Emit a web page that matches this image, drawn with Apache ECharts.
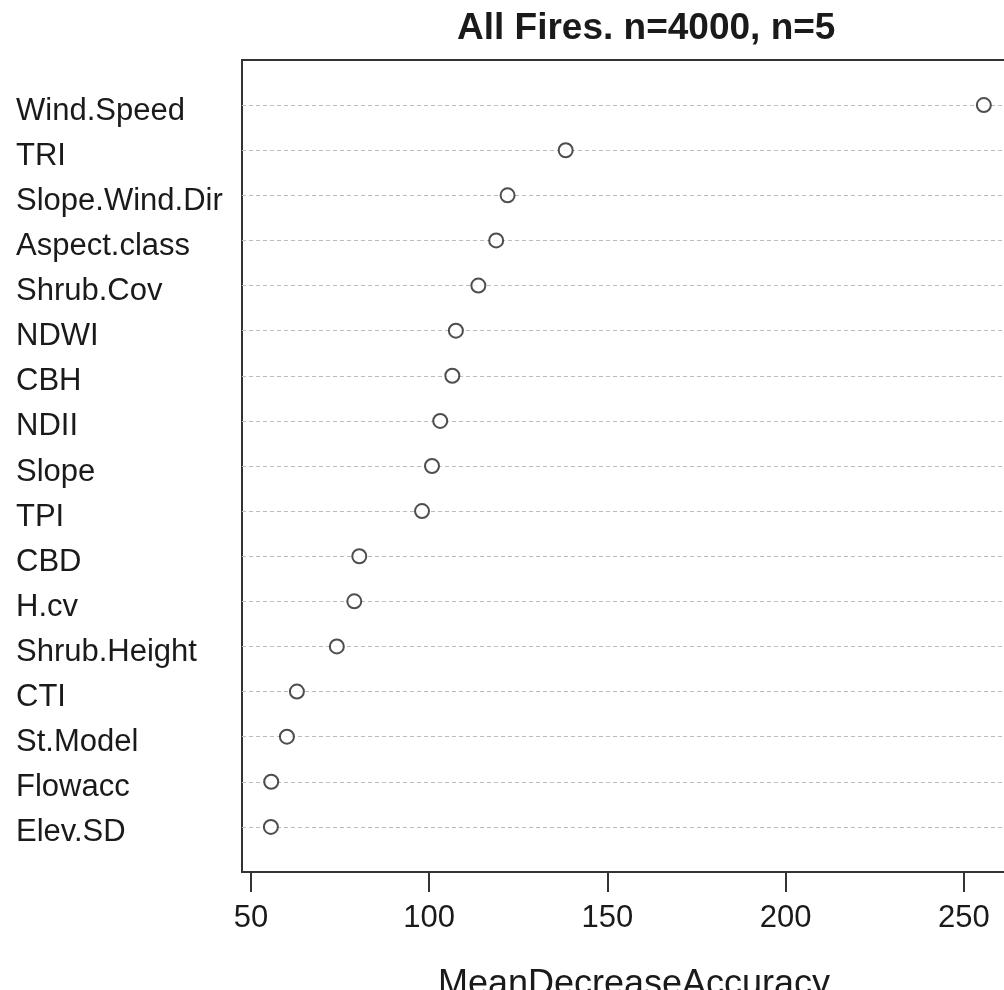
<!DOCTYPE html>
<html lang="en" style="height: 100%">

<head>
  <meta charset="utf-8" />
</head>

<body style="height: 100%; margin: 0">
  <div id="container" style="height: 990px; width: 1004px;"></div>

  <script type="text/javascript" src="https://cdn.jsdelivr.net/npm/echarts@6/dist/echarts.min.js"></script>

  <script type="text/javascript">
    // variables, top to bottom as in the plot
    var variables = ['Wind.Speed', 'TRI', 'Slope.Wind.Dir', 'Aspect.class', 'Shrub.Cov', 'NDWI', 'CBH', 'NDII',
      'Slope', 'TPI', 'CBD', 'H.cv', 'Shrub.Height', 'CTI', 'St.Model', 'Flowacc', 'Elev.SD'];
    // mean decrease accuracy, same order
    var accuracy = [255.6, 138.3, 122.0, 118.8, 113.8, 107.5, 106.5, 103.1,
      100.8, 98.0, 80.4, 79.0, 74.1, 62.9, 60.1, 55.7, 55.6];
    var tickValues = [50, 100, 150, 200, 250];

    var dom = document.getElementById("container");
    var myChart = echarts.init(dom, null, { renderer: "canvas" });

    // category axis runs bottom -> top, with blank slots at both ends
    var yCats = [''].concat(variables.slice().reverse(), ['']);
    var points = variables.map(function (name, i) {
      return [accuracy[i], name];
    });

    var font = "'Liberation Sans', Arial, sans-serif";

    var option = {
      animation: false,
      backgroundColor: '#fff',
      title: {
        text: 'All Fires. n=4000, n=5',
        left: 452,
        top: 5,
        textStyle: {
          fontFamily: font,
          fontSize: 37,
          fontWeight: 'bold',
          color: '#1a1a1a'
        }
      },
      grid: {
        left: 242,
        top: 60,
        bottom: 118,
        right: -8,
        containLabel: false,
        outerBoundsMode: 'none',
        show: true,
        borderColor: '#333',
        borderWidth: 2
      },
      xAxis: {
        type: 'value',
        min: 47.5,
        max: 263.5,
        name: 'MeanDecreaseAccuracy',
        nameLocation: 'middle',
        nameGap: 95,
        nameTextStyle: {
          fontFamily: font,
          fontSize: 36,
          color: '#1a1a1a',
          padding: [0, 0, 0, 14]
        },
        axisLine: { show: false },
        axisTick: {
          show: true,
          length: 20,
          customValues: tickValues,
          lineStyle: { color: '#333', width: 2 }
        },
        axisLabel: {
          customValues: tickValues,
          margin: 31,
          fontFamily: font,
          fontSize: 31,
          color: '#1a1a1a'
        },
        splitLine: { show: false }
      },
      yAxis: {
        type: 'category',
        data: yCats,
        boundaryGap: false,
        axisLine: { show: false },
        axisTick: { show: false },
        axisLabel: {
          interval: 0,
          align: 'left',
          margin: 226,
          formatter: function (v) { return v ? '{a|' + v + '}' : ''; },
          rich: {
            a: {
              fontFamily: font,
              fontSize: 31,
              color: '#1a1a1a',
              padding: [12, 0, 0, 0]
            }
          }
        },
        splitLine: {
          show: true,
          interval: function (idx) { return idx > 0 && idx < yCats.length - 1; },
          lineStyle: { color: '#bdbdbd', type: [4, 3], width: 1 }
        }
      },
      series: [
        {
          type: 'scatter',
          data: points,
          symbol: 'circle',
          symbolSize: 14,
          itemStyle: {
            color: '#fff',
            borderColor: '#222',
            borderWidth: 2
          }
        }
      ]
    };

    myChart.setOption(option);
    window.addEventListener("resize", myChart.resize);
  </script>
</body>

</html>
